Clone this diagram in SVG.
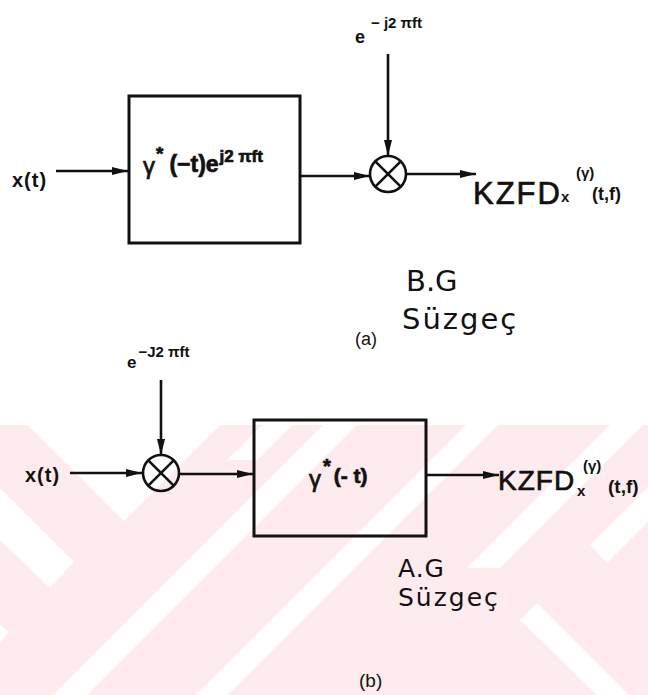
<svg xmlns="http://www.w3.org/2000/svg" width="648" height="695" viewBox="0 0 648 695">
<style>
.ln{stroke:#111;stroke-width:2.6;fill:none}
.bx{stroke:#111;stroke-width:3;fill:none}
.t{font-family:"Liberation Sans",Arial,sans-serif;fill:#111}
.b{font-weight:bold}
.th{stroke:#111;stroke-width:0.7}
.hw{font-family:"DejaVu Sans","Liberation Sans",sans-serif;fill:#111}
.wm{fill:#fff}
</style>
<defs>
<marker id="ah" markerWidth="16" markerHeight="9" refX="16" refY="4.5" orient="auto" markerUnits="userSpaceOnUse"><path d="M0,0.5 L16,4.5 L0,8.5 Z" fill="#111"/></marker>
</defs>
<rect width="648" height="695" fill="#fff"/>
<g id="watermark">
<rect x="0" y="425" width="648" height="270" fill="#fdebee"/>
<polygon class="wm" points="28,425 220,425 124,521"/>
<polygon class="wm" points="262,425 292,425 257,460 227,460"/>
<polygon class="wm" points="0,488 74,562 50,588 0,540"/>
<polygon class="wm" points="0,624 9,633 0,642"/>
<polygon class="wm" points="323,425 357,425 87,695 53,695"/>
<polygon class="wm" points="466,425 498,425 228,695 196,695"/>
<polygon class="wm" points="610,425 643,425 500,568 467,568"/>
<polygon class="wm" points="648,487 590,545 607,563 648,522"/>
<polygon class="wm" points="520,620 537,603 629,695 597,695"/>
</g>
<g id="connectors">
<line class="ln" x1="56" y1="171" x2="128" y2="171" marker-end="url(#ah)"/>
<line class="ln" x1="300" y1="176" x2="370" y2="176" marker-end="url(#ah)"/>
<line class="ln" x1="388" y1="54" x2="388" y2="156" marker-end="url(#ah)"/>
<line class="ln" x1="407" y1="174" x2="476" y2="174" marker-end="url(#ah)"/>
<line class="ln" x1="70" y1="473" x2="142" y2="473" marker-end="url(#ah)"/>
<line class="ln" x1="161" y1="380" x2="161" y2="455" marker-end="url(#ah)"/>
<line class="ln" x1="180" y1="474" x2="253" y2="474" marker-end="url(#ah)"/>
<line class="ln" x1="427" y1="475" x2="499" y2="475" marker-end="url(#ah)"/>
</g>
<g id="input_a"><text class="t b" x="12" y="187" font-size="20" letter-spacing="1">x(t)</text></g>
<g id="filter_a">
<rect class="bx" x="129" y="96" width="171" height="147"/>
<text class="t th" x="143" y="174" font-size="24">γ<tspan class="b" dx="1" dy="-14" font-size="19">*</tspan><tspan class="b" dx="6" dy="12" font-size="23">(−t)e</tspan><tspan class="b" dx="1" dy="-10" font-size="17">j2 πft</tspan></text>
</g>
<g id="osc_a">
<text class="t b" x="355" y="43" font-size="18">e<tspan dx="6" dy="-15" font-size="15">− j2 πft</tspan></text>
</g>
<g id="mult_a">
<circle class="ln" cx="388" cy="174" r="18"/>
<line class="ln" x1="375.3" y1="161.3" x2="400.7" y2="186.7"/>
<line class="ln" x1="400.7" y1="161.3" x2="375.3" y2="186.7"/>
</g>
<g id="output_a">
<text class="t th" x="473" y="204" font-size="31" letter-spacing="2">KZFD</text>
<text class="t b" x="561" y="202" font-size="15">x</text>
<text class="t b" x="576" y="178" font-size="15">(γ)</text>
<text class="t b" x="592" y="200" font-size="18">(t,f)</text>
</g>
<g id="caption_a">
<text class="hw" x="406" y="291" font-size="29">B.G</text>
<text class="hw" x="402" y="329" font-size="29" letter-spacing="2">Süzgeç</text>
<text class="t" x="355" y="345" font-size="18">(a)</text>
</g>
<g id="osc_b">
<text class="t b" x="127" y="368" font-size="17">e<tspan dx="2" dy="-11" font-size="15">−J2 πft</tspan></text>
</g>
<g id="input_b"><text class="t b" x="25" y="482" font-size="20" letter-spacing="1">x(t)</text></g>
<g id="mult_b">
<circle class="ln" cx="161" cy="473" r="18"/>
<line class="ln" x1="148.3" y1="460.3" x2="173.7" y2="485.7"/>
<line class="ln" x1="173.7" y1="460.3" x2="148.3" y2="485.7"/>
</g>
<g id="filter_b">
<rect class="bx" x="254" y="420" width="172" height="116"/>
<text class="t th" x="309" y="487" font-size="24">γ<tspan class="b" dx="2" dy="-14" font-size="20">*</tspan><tspan class="b" dx="3" dy="10" font-size="21">(- t)</tspan></text>
</g>
<g id="output_b">
<text class="t th" x="498" y="490" font-size="28" letter-spacing="1">KZFD</text>
<text class="t b" x="577" y="496" font-size="15">x</text>
<text class="t b" x="583" y="471" font-size="15">(γ)</text>
<text class="t b" x="608" y="493" font-size="19">(t,f)</text>
</g>
<g id="caption_b">
<text class="hw" x="398" y="577" font-size="25" letter-spacing="1">A.G</text>
<text class="hw" x="398" y="606" font-size="25" letter-spacing="2">Süzgeç</text>
<text class="t" x="359" y="687" font-size="19">(b)</text>
</g>
</svg>
